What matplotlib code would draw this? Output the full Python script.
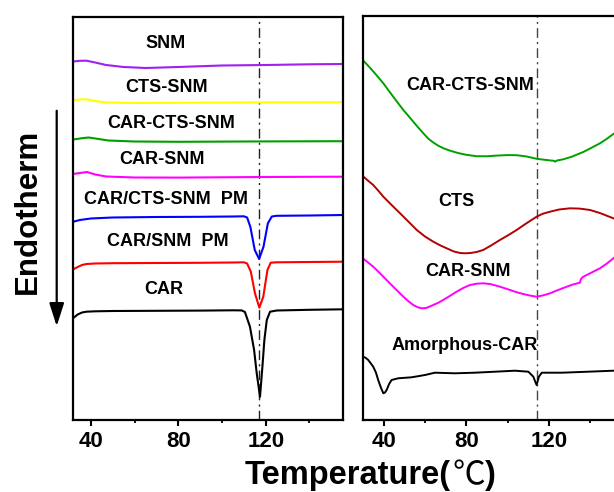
import matplotlib
matplotlib.use("Agg")
import matplotlib.pyplot as plt
from matplotlib.ticker import FixedLocator
from matplotlib.patches import FancyArrowPatch

plt.rcParams['font.family'] = ['Liberation Sans', 'DejaVu Sans']
plt.rcParams['font.weight'] = 'bold'

# ---------------- data (signal, endotherm downward; axis inverted) -------------
# Left panel
snm_T = [32, 35, 38, 42, 47, 55, 65, 80, 100, 120, 140, 155.5]
snm_y = [61.5, 60.8, 60.7, 62.5, 65, 67, 68, 67, 65.5, 65, 64.3, 64]

ctssnm_T = [32, 35, 38, 42, 47, 60, 80, 100, 120, 140, 155.5]
ctssnm_y = [100.2, 99.5, 99.3, 101, 102.5, 103, 102.8, 102.6, 102.4, 102.3, 102.2]

carctssnm_T = [32, 36, 39, 43, 48, 60, 80, 100, 120, 140, 155.5]
carctssnm_y = [139.5, 138.2, 137.5, 138.8, 140.5, 141.5, 141.8, 141.6, 141.4, 141.3, 141.2]

carsnm_T = [32, 35, 38.3, 42, 47, 60, 80, 100, 120, 140, 155.5]
carsnm_y = [174, 173, 172, 174.5, 176.5, 177.5, 177.6, 177.3, 177, 176.8, 176.7]

pm_cts_T = [32, 35, 40, 50, 70, 90, 105, 110, 111.5, 113, 115, 117, 119, 121, 122.8, 125, 140, 155.5]
pm_cts_y = [221.7, 220, 218.5, 217.5, 217, 216.8, 216.5, 216.3, 217.5, 227, 250, 259, 246.7, 223.3,
            216.5, 215.8, 215.5, 215]

pm_snm_T = [32, 34, 36, 38, 42, 50, 70, 90, 105, 110, 111.5, 113.2, 115.1, 117.1, 118.9, 120.8,
            122.3, 125, 140, 155.5]
pm_snm_y = [269.3, 267, 265, 264, 263.5, 263.2, 263, 262.8, 262.5, 262.3, 263.5, 271.7, 293.3, 307.7,
            296.7, 270, 262.7, 262.3, 262, 261.7]

car_T = [32, 34, 36, 38, 42, 50, 70, 90, 105, 109, 110.5, 112.8, 114.7, 115.9, 117.4, 118.5, 119.4,
         120.5, 122, 125, 140, 155.5]
car_y = [318, 314.5, 312.5, 311.7, 311.3, 311, 310.8, 310.6, 310.3, 310.4, 312, 326.7, 350, 373.3,
         396.7, 366.7, 340, 320, 311.7, 310.5, 309.8, 309.3]

# Right panel
r_carctssnm_T = [29.8, 33, 36, 39.8, 42, 44.6, 47, 49.5, 52, 54.3, 56.7, 59.2, 61.5, 64, 66.5, 69, 72,
                 76, 80, 85, 90, 94.7, 100, 104.4, 109.3, 114.1, 118, 121, 122.5, 123, 124, 127, 131,
                 136.7, 140.5, 144.8, 148, 151.3, 155]
r_carctssnm_y = [60, 67, 74, 83.3, 89.5, 96.7, 103.3, 110, 116, 121.7, 127.5, 133.3, 138.5, 142.5,
                 145.8, 148.3, 150.6, 153, 154.8, 156.2, 156.3, 155.6, 155.1, 155.2, 156.5, 158.8,
                 159.8, 160.5, 160.8, 161.7, 160.5, 159.3, 156.8, 152, 148, 143.3, 139, 134, 128.5]

r_cts_T = [29.8, 32, 34.9, 37.5, 39.8, 43.8, 47.9, 52, 56, 60, 64, 67.5, 70.5, 74, 77, 79.4, 82, 85,
           88.2, 92, 96.3, 100.5, 104.4, 109, 114.1, 117, 120.6, 125, 130.3, 135, 140, 145, 151.3, 155]
r_cts_y = [176, 180, 185, 191, 196.7, 205, 213.3, 221.7, 230, 236.5, 241.7, 245.5, 248.3, 251.5, 253,
           253.3, 253, 252, 250, 245.5, 240, 235, 230, 223.5, 216.7, 213.8, 211.7, 209.5, 208.3,
           208.6, 210, 213.2, 218.3, 221.5]

r_carsnm_T = [29.8, 32.3, 34.9, 37.3, 39.8, 44.6, 49.5, 52, 54.3, 56.5, 58.4, 60.5, 62, 64, 66.5, 68.8,
              72, 75.3, 78.5, 81.8, 85, 88.2, 91.5, 94.7, 98, 101.2, 104.4, 107.6, 111, 114.1, 117,
              120.6, 124.5, 128.7, 132, 135.1, 135.6, 136.7, 140.5, 144.8, 148, 151.3, 155]
r_carsnm_y = [258.3, 262.3, 266.7, 271.5, 276.7, 286.7, 296.7, 301.3, 305, 307.3, 308.3, 308, 306.8,
              305, 302.7, 300, 296, 291.7, 288, 285, 283.7, 283.3, 284, 285.7, 287.8, 290, 292.2,
              294, 295.6, 296.7, 295.5, 293.3, 290, 286.7, 284.3, 282.7, 279, 276.7, 272.8, 268.3,
              263.8, 258.3, 252]

r_amor_T = [29.6, 31, 32.5, 34.9, 36.2, 37.3, 38.6, 39.8, 40.6, 41.4, 42.6, 43.8, 47, 53.5, 60, 64.8,
            74.5, 84.2, 93.9, 103.6, 110.1, 112.5, 113.4, 114.1, 114.7, 115.2, 116.6, 126.3, 139.2,
            151.3, 155]
r_amor_y = [356.7, 357.5, 360, 366.7, 372.5, 380, 387.5, 393.3, 392.5, 390, 384, 380, 378.3, 377.3,
            375, 372.7, 373.3, 372.7, 371.7, 370.7, 371.7, 376.7, 381.5, 385, 380.5, 376.7, 372.7,
            372.7, 371.7, 370.7, 370.5]

left_series = [
    ("SNM", snm_T, snm_y, "#a020f0", 74.4, 43),
    ("CTS-SNM", ctssnm_T, ctssnm_y, "#ffff00", 74.8, 88),
    ("CAR-CTS-SNM", carctssnm_T, carctssnm_y, "#00a000", 76.6, 124),
    ("CAR-SNM", carsnm_T, carsnm_y, "#ff00ff", 72.5, 159),
    ("CAR/CTS-SNM  PM", pm_cts_T, pm_cts_y, "#0000ff", 74.4, 199),
    ("CAR/SNM  PM", pm_snm_T, pm_snm_y, "#ff0000", 75.3, 241),
    ("CAR", car_T, car_y, "#000000", 73.4, 289),
]
right_series = [
    ("CAR-CTS-SNM", r_carctssnm_T, r_carctssnm_y, "#00a000", 81.8, 85),
    ("CTS", r_cts_T, r_cts_y, "#b40000", 75.0, 201),
    ("CAR-SNM", r_carsnm_T, r_carsnm_y, "#ff00ff", 80.8, 271),
    ("Amorphous-CAR", r_amor_T, r_amor_y, "#000000", 79.2, 346),
]
major_ticks = [40, 80, 120]
minor_ticks = [60, 100, 140]
left_peak = 117.0
right_peak = 114.3

# ---------------- figure ----------------
W, H = 614, 492
fig = plt.figure(figsize=(W / 100, H / 100), dpi=100)

def px_axes(x0, y0, x1, y1):
    return fig.add_axes([x0 / W, 1 - y1 / H, (x1 - x0) / W, (y1 - y0) / H])

axL = px_axes(73.3, 17, 343.3, 420)
axR = px_axes(362.5, 16, 621, 419.5)

def style(ax, xlim, ylim):
    ax.set_xlim(*xlim)
    ax.set_ylim(*ylim)
    for s in ax.spines.values():
        s.set_linewidth(1.6)
    ax.set_yticks([])
    ax.xaxis.set_major_locator(FixedLocator(major_ticks))
    ax.xaxis.set_minor_locator(FixedLocator(minor_ticks))
    ax.tick_params(axis='x', which='major', direction='out', length=4, width=1.5,
                   labelsize=16, pad=4, top=False)
    ax.tick_params(axis='x', which='minor', direction='out', length=2.5, width=1.3, top=False)
    for lbl in ax.get_xticklabels():
        lbl.set_fontweight('bold')

style(axL, (32, 155.5), (420, 17))
style(axR, (29.7, 155), (419.5, 16))

dashdot = (0, (7, 3, 1.5, 3))
axL.axvline(left_peak, color='#222222', lw=1.0, linestyle=dashdot)
axR.axvline(right_peak, color='#444444', lw=1.0, linestyle=dashdot)

for name, T, y, c, tx, ty in left_series:
    axL.plot(T, y, color=c, lw=1.5)
    axL.text(tx, ty, name, ha='center', va='center', fontsize=13, fontweight='bold')

for name, T, y, c, tx, ty in right_series:
    axR.plot(T, y, color=c, lw=1.4)
    axR.text(tx, ty, name, ha='center', va='center', fontsize=13, fontweight='bold')

fig.text(28 / W, 1 - 211 / H, "Endotherm", rotation=90, ha='center', va='center',
         fontsize=22.5, fontweight='bold')

# x label: "Temperature(" + full-width ℃ + ")"
renderer = fig.canvas.get_renderer()
base_y = 1 - 484 / H
x_px = 245
t1 = fig.text(x_px / W, base_y, "Temperature(", ha='left', va='baseline', fontsize=23.5,
              fontweight='bold')
x_px = t1.get_window_extent(renderer).x1 + 1
t2 = fig.text(x_px / W, base_y, "℃", ha='left', va='baseline', fontsize=23.5,
              fontweight='normal', family=['Noto Sans CJK SC', 'DejaVu Sans'])
x_px = t2.get_window_extent(renderer).x1
fig.text(x_px / W, base_y, ")", ha='left', va='baseline', fontsize=23.5, fontweight='bold')

fig.add_artist(FancyArrowPatch(
    (56.7 / W, 1 - 108 / H), (56.7 / W, 1 - 329 / H), transform=fig.transFigure,
    arrowstyle='-|>,head_length=10,head_width=3.2', color='black', lw=1.6, mutation_scale=1.4))

fig.savefig("out.png", dpi=100)
